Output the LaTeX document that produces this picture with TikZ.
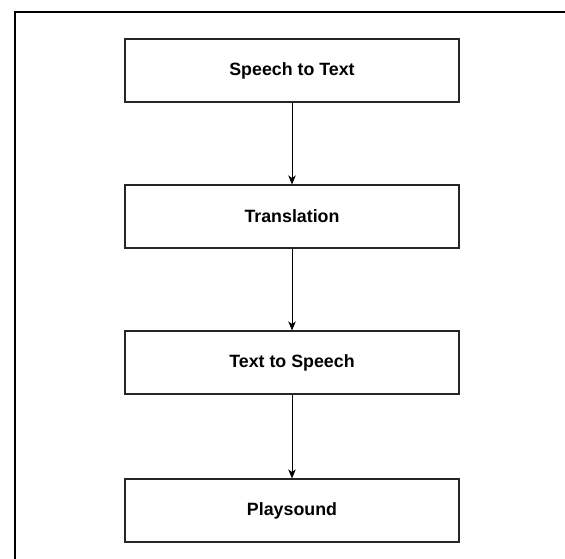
\documentclass[tikz,border=0pt]{standalone}
\usepackage{fontspec}
\setmainfont{Liberation Sans}
\usetikzlibrary{arrows.meta}
\begin{document}
\begin{tikzpicture}[x=1pt,y=-1pt,
  stepbox/.style={draw=black!85,line width=1.1pt,minimum width=334pt,minimum height=63pt,inner sep=0pt,font=\fontsize{17.8}{20}\selectfont\bfseries},
  conn/.style={draw=black,line width=1pt,-{Stealth[length=9pt,width=7.5pt,inset=2.5pt]}}]
\useasboundingbox (0,0) rectangle (565,559);
\fill[white] (0,0) rectangle (565,559);
\coordinate (ftl) at (15,12);
\coordinate (ftr) at (565,12);
\coordinate (fbl) at (15,559);
\draw[line width=1.6pt] (ftr) -- (ftl) -- (fbl);
\node[stepbox] (s2t) at (292,70.5) {Speech to Text};
\node[stepbox] (tr) at (292,216.5) {Translation};
\node[stepbox] (t2s) at (292,362.5) {Text to Speech};
\node[stepbox] (ps) at (292,510.5) {Playsound};
\draw[conn] (s2t) -- (tr);
\draw[conn] (tr) -- (t2s);
\draw[conn] (t2s) -- (ps);
\end{tikzpicture}
\end{document}
